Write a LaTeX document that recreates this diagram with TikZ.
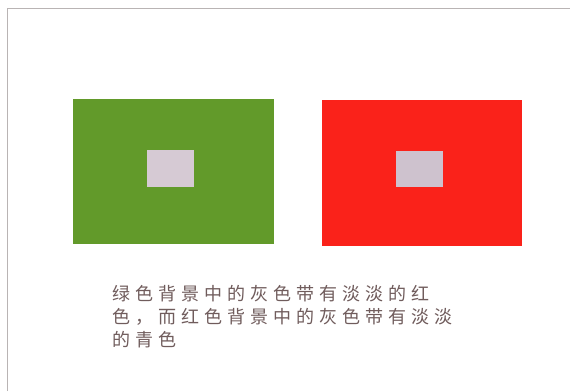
\documentclass[tikz,border=0pt]{standalone}
\usepackage{fontspec}
\newfontfamily\cjk[LetterSpace=28]{Noto Sans CJK SC}
\definecolor{bggreen}{RGB}{98,154,42}
\definecolor{bgred}{RGB}{250,34,26}
\definecolor{graypatchA}{RGB}{214,202,212}
\definecolor{graypatchB}{RGB}{206,194,206}
\definecolor{framegray}{RGB}{185,180,180}
\definecolor{textcol}{RGB}{112,92,92}
\tikzset{
  panel/.style={inner sep=0pt, outer sep=0pt},
  caption/.style={anchor=west, inner sep=0pt, text=textcol, font=\cjk\fontsize{18}{22}\selectfont}
}
\begin{document}
\begin{tikzpicture}[x=1pt,y=-1pt]
\useasboundingbox (0,0) rectangle (570,391);
\fill[white] (0,0) rectangle (570,391);
% frame lines
\draw[framegray, line width=1pt] (7.5,391) -- (7.5,8.5) -- (570,8.5);
% green panel
\fill[bggreen] (73,99) rectangle (274,244);
\fill[graypatchA] (147,150) rectangle (194,187);
% red panel
\fill[bgred] (322,100) rectangle (522,246);
\fill[graypatchB] (396,151) rectangle (443,187);
% caption
\node[caption] (l1) at (112,294) {绿色背景中的灰色带有淡淡的红};
\node[caption] (l2) at (112,317) {色，而红色背景中的灰色带有淡淡};
\node[caption] (l3) at (112,339.5) {的青色};
\end{tikzpicture}
\end{document}
